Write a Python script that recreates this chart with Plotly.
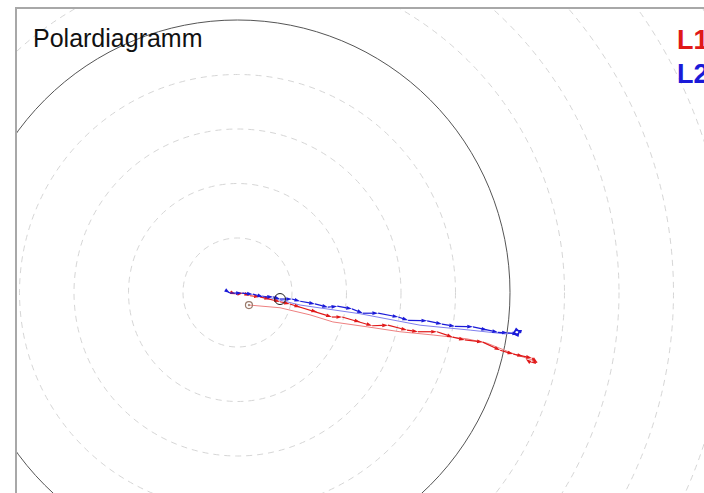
import plotly.graph_objects as go

# ---- data (units: ring spacing = 1) ----
ring_radii = [1, 2, 3, 4, 5, 6, 7, 8, 9, 10, 11]
solid_ring = 5

l1_x = [-0.14, -0.03, 0.10, 0.23, 0.41, 0.60, 0.78, 0.96, 1.15, 1.46, 1.73, 1.92, 2.25, 2.47, 2.76,
        3.11, 3.31, 3.66, 3.95, 4.17, 4.50, 4.82, 5.06, 5.24, 5.40, 5.50, 5.37, 5.29]
l1_y = [0.01, -0.03, -0.01, -0.06, -0.08, -0.12, -0.17, -0.21, -0.27, -0.36, -0.45, -0.45, -0.54, -0.61, -0.60,
        -0.69, -0.72, -0.72, -0.82, -0.87, -0.91, -1.06, -1.13, -1.17, -1.20, -1.28, -1.28, -1.22]

l1_ref_x = [0.21, 0.41, 0.78, 1.33, 1.75, 2.38, 2.98, 3.59, 4.21, 4.58, 4.82, 5.13, 5.42]
l1_ref_y = [-0.23, -0.25, -0.28, -0.41, -0.54, -0.63, -0.72, -0.78, -0.85, -0.93, -1.02, -1.15, -1.24]

l2_x = [-0.17, -0.14, 0.08, 0.28, 0.47, 0.65, 0.78, 1.00, 1.15, 1.42, 1.66, 1.83, 2.10, 2.30, 2.58,
        2.95, 3.13, 3.48, 3.75, 3.99, 4.32, 4.58, 4.78, 4.96, 5.15, 5.18, 5.11, 5.06, 5.15]
l2_y = [0.01, -0.01, -0.01, -0.03, -0.08, -0.08, -0.12, -0.12, -0.16, -0.21, -0.27, -0.25, -0.30, -0.38, -0.38,
        -0.45, -0.51, -0.52, -0.58, -0.62, -0.63, -0.69, -0.73, -0.74, -0.76, -0.71, -0.69, -0.74, -0.80]

l2_ref_x = [0.45, 1.15, 2.25, 3.35, 4.27, 4.91, 5.09]
l2_ref_y = [-0.06, -0.23, -0.39, -0.60, -0.69, -0.76, -0.74]

start_marker = (0.21, -0.23)
ref_marker = (0.78, -0.12)

title_text = "Polardiagramm"
legend_labels = ["L1", "L2"]

# ---- layout geometry ----
W, H = 704, 493
ML, MT = 17, 9
cx, cy, unit = 237.5, 292.5, 54.5
x_range = [-(cx - ML) / unit, (W - cx) / unit]
y_range = [-(H - cy) / unit, (cy - MT) / unit]

RED = "#e01818"
RED_L = "#ee8080"
BLUE = "#1a1ad8"
BLUE_L = "#8080ee"

fig = go.Figure()

fig.add_trace(go.Scatter(x=l1_ref_x, y=l1_ref_y, mode="lines",
                         line=dict(color=RED_L, width=1), showlegend=False))
fig.add_trace(go.Scatter(x=l2_ref_x, y=l2_ref_y, mode="lines",
                         line=dict(color=BLUE_L, width=1), showlegend=False))
fig.add_trace(go.Scatter(x=l1_x, y=l1_y, mode="lines+markers", name=legend_labels[0],
                         line=dict(color=RED, width=1.2),
                         marker=dict(symbol="arrow", angleref="previous", size=6, color=RED),
                         showlegend=False))
fig.add_trace(go.Scatter(x=l2_x, y=l2_y, mode="lines+markers", name=legend_labels[1],
                         line=dict(color=BLUE, width=1.2),
                         marker=dict(symbol="arrow", angleref="previous", size=6, color=BLUE),
                         showlegend=False))
fig.add_trace(go.Scatter(x=[start_marker[0]], y=[start_marker[1]], mode="markers",
                         marker=dict(symbol="circle-open-dot", size=7, color="#9a7a6a",
                                     line=dict(width=1.2)), showlegend=False))
fig.add_trace(go.Scatter(x=[ref_marker[0]], y=[ref_marker[1]], mode="markers",
                         marker=dict(symbol="circle-open", size=11, color="#222222",
                                     line=dict(width=1)), showlegend=False))

for r in ring_radii:
    solid = (r == solid_ring)
    fig.add_shape(type="circle", xref="x", yref="y", x0=-r, y0=-r, x1=r, y1=r,
                  layer="below",
                  line=dict(color="#555555" if solid else "#d6d6d6",
                            width=1,
                            dash="solid" if solid else "6px,5px"))

pw = W - ML
ph = H - MT
def px(xp):
    return (xp - ML) / pw
def py(yp):
    return 1 - (yp - MT) / ph

fig.add_annotation(text=title_text, xref="paper", yref="paper", x=px(31), y=py(38),
                   xanchor="left", yanchor="middle", showarrow=False,
                   font=dict(family="Liberation Sans, Arial, sans-serif", size=25, color="#111111"))
fig.add_annotation(text="<b>%s</b>" % legend_labels[0], xref="paper", yref="paper", x=px(675), y=py(40),
                   xanchor="left", yanchor="middle", showarrow=False,
                   font=dict(family="Liberation Sans, Arial, sans-serif", size=27, color=RED))
fig.add_annotation(text="<b>%s</b>" % legend_labels[1], xref="paper", yref="paper", x=px(675), y=py(74),
                   xanchor="left", yanchor="middle", showarrow=False,
                   font=dict(family="Liberation Sans, Arial, sans-serif", size=27, color=BLUE))

fig.update_layout(
    width=W, height=H,
    margin=dict(l=ML, t=MT, r=0, b=0, pad=0),
    paper_bgcolor="white", plot_bgcolor="white",
    xaxis=dict(range=x_range, showgrid=False, zeroline=False, showticklabels=False, ticks="",
               showline=True, side="top", linecolor="#a8a8a8", linewidth=1.5),
    yaxis=dict(range=y_range, showgrid=False, zeroline=False, showticklabels=False, ticks="",
               showline=True, linecolor="#a8a8a8", linewidth=1.5),
)

fig.write_html("out.html")
